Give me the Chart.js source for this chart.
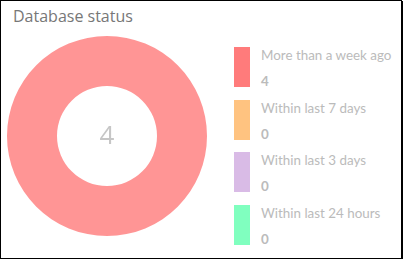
<!DOCTYPE html>
<html>
<head>
<meta charset="utf-8">
<script src="https://cdn.jsdelivr.net/npm/chart.js@4/dist/chart.umd.min.js"></script>
<style>
    html, body { margin: 0; padding: 0; background: #fff; }
    .panel {
        position: relative;
        width: 400px;
        height: 257px;
        border: 1px solid #000;
        box-shadow: 1px 1px 0 #000;
        font-family: Lato, "Open Sans", sans-serif;
    }
    .panel h3 {
        position: absolute;
        left: 12px;
        top: 4px;
        margin: 0;
        font-family: "Open Sans", sans-serif;
        font-weight: 400;
        font-size: 16px;
        color: #777;
    }
    .chart-box {
        position: absolute;
        left: 6px;
        top: 35px;
        width: 200px;
        height: 200px;
    }
    .legend {
        position: absolute;
        left: 233px;
        top: 46px;
    }
    .legend-item {
        position: relative;
        height: 40px;
        margin-bottom: 12.7px;
    }
    .legend-item .swatch {
        position: absolute;
        left: 0;
        top: 0;
        width: 16px;
        height: 40px;
    }
    .legend-item .label {
        position: absolute;
        left: 27px;
        top: 0;
        font-size: 13.4px;
        line-height: 16px;
        color: #bbb;
        white-space: nowrap;
    }
    .legend-item .value {
        position: absolute;
        left: 27px;
        top: 26px;
        font-size: 13.4px;
        font-weight: 700;
        line-height: 16px;
        color: #bbb;
    }
</style>
</head>
<body>
<div class="panel">
    <h3>Database status</h3>
    <div class="chart-box"><canvas id="status-chart"></canvas></div>
    <div class="legend" id="status-legend"></div>
</div>
<script>
const categories = ['More than a week ago', 'Within last 7 days', 'Within last 3 days', 'Within last 24 hours'];
const counts = [4, 0, 0, 0];
const colors = ['#ff7b7b', '#ffc380', '#d9bbe6', '#80ffbf'];

// soften the solid legend colours for the ring itself
function withAlpha(hex, alpha) {
    const n = parseInt(hex.slice(1), 16);
    return `rgba(${n >> 16}, ${(n >> 8) & 255}, ${n & 255}, ${alpha})`;
}

const centerTotal = {
    id: 'centerTotal',
    afterDraw(chart) {
        const { ctx } = chart;
        const meta = chart.getDatasetMeta(0);
        if (!meta.data.length) return;
        const { x, y } = meta.data[0];
        const total = chart.data.datasets[0].data.reduce((a, b) => a + b, 0);
        ctx.save();
        ctx.fillStyle = '#c6c6c6';
        ctx.font = '400 26px "Open Sans", sans-serif';
        ctx.textAlign = 'center';
        ctx.textBaseline = 'middle';
        ctx.fillText(String(total), x, y + 1);
        ctx.restore();
    }
};

new Chart(document.getElementById('status-chart'), {
    type: 'doughnut',
    data: {
        labels: categories,
        datasets: [{
            data: counts,
            backgroundColor: colors.map(c => withAlpha(c, 0.8)),
            borderWidth: 0,
            hoverOffset: 0,
            offset: 0
        }]
    },
    options: {
        responsive: true,
        maintainAspectRatio: false,
        animation: false,
        cutout: '50%',
        layout: { padding: 0 },
        plugins: {
            legend: { display: false },
            tooltip: { enabled: false }
        }
    },
    plugins: [centerTotal]
});

// legend on the right, one block per category
const legend = document.getElementById('status-legend');
categories.forEach((name, i) => {
    const item = document.createElement('div');
    item.className = 'legend-item';
    item.innerHTML = `<div class="swatch" style="background:${colors[i]}"></div>` +
        `<div class="label">${name}</div><div class="value">${counts[i]}</div>`;
    legend.appendChild(item);
});
</script>
</body>
</html>
